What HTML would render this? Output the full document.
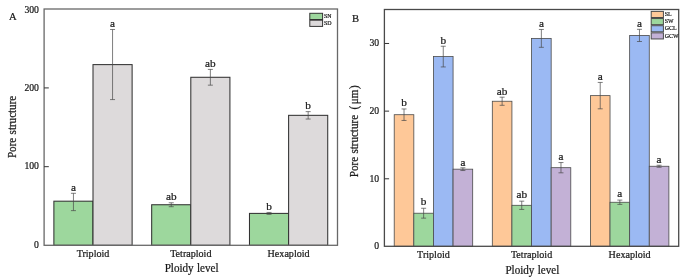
<!DOCTYPE html>
<html><head><meta charset="utf-8"><title>Pore structure</title>
<style>
html,body{margin:0;padding:0;background:#fff;}
body{width:685px;height:280px;overflow:hidden;font-family:"Liberation Serif",serif;}
svg{display:block;}
svg text{font-family:"Liberation Serif",serif;fill:#1a1a1a;stroke:#1a1a1a;stroke-width:0.22px;}
</style></head><body>
<svg width="685" height="280" viewBox="0 0 685 280">
<defs><filter id="soft" x="0" y="0" width="685" height="280" filterUnits="userSpaceOnUse"><feGaussianBlur stdDeviation="0.35"/></filter></defs>
<g filter="url(#soft)">
<rect width="685" height="280" fill="#ffffff"/>
<rect x="53.88" y="201.19" width="39.12" height="44.11" fill="#9DD79D" stroke="#333333" stroke-width="1.05"/>
<path d="M73.44 193.31V210.64M70.94 193.31h5M70.94 210.64h5" stroke="#484848" stroke-width="0.7" fill="none"/>
<text transform="translate(73.44 191.01) scale(1 1.0)" font-size="11.2" text-anchor="middle">a</text>
<rect x="93.00" y="64.61" width="39.12" height="180.69" fill="#DDDADB" stroke="#333333" stroke-width="1.05"/>
<path d="M112.56 29.48V99.58M110.06 29.48h5M110.06 99.58h5" stroke="#484848" stroke-width="0.7" fill="none"/>
<text transform="translate(112.56 26.78) scale(1 1.0)" font-size="11.2" text-anchor="middle">a</text>
<rect x="151.68" y="204.74" width="39.12" height="40.56" fill="#9DD79D" stroke="#333333" stroke-width="1.05"/>
<path d="M171.24 202.77V206.70M168.74 202.77h5M168.74 206.70h5" stroke="#484848" stroke-width="0.7" fill="none"/>
<text transform="translate(171.24 200.07) scale(1 1.0)" font-size="11.2" text-anchor="middle">ab</text>
<rect x="190.80" y="77.29" width="39.12" height="168.01" fill="#DDDADB" stroke="#333333" stroke-width="1.05"/>
<path d="M210.36 69.41V85.17M207.86 69.41h5M207.86 85.17h5" stroke="#484848" stroke-width="0.7" fill="none"/>
<text transform="translate(210.36 66.71) scale(1 1.0)" font-size="11.2" text-anchor="middle">ab</text>
<rect x="249.48" y="213.40" width="39.12" height="31.90" fill="#9DD79D" stroke="#333333" stroke-width="1.05"/>
<path d="M269.04 212.45V214.34M266.54 212.45h5M266.54 214.34h5" stroke="#484848" stroke-width="0.7" fill="none"/>
<text transform="translate(269.04 209.75) scale(1 1.0)" font-size="11.2" text-anchor="middle">b</text>
<rect x="288.60" y="115.34" width="39.12" height="129.97" fill="#DDDADB" stroke="#333333" stroke-width="1.05"/>
<path d="M308.16 111.63V119.04M305.66 111.63h5M305.66 119.04h5" stroke="#484848" stroke-width="0.7" fill="none"/>
<text transform="translate(308.16 108.93) scale(1 1.0)" font-size="11.2" text-anchor="middle">b</text>
<rect x="44.1" y="9.0" width="293.4" height="236.3" fill="none" stroke="#686868" stroke-width="1.3"/>
<text transform="translate(38.90 247.80) scale(1 1.04)" font-size="9.7" text-anchor="end">0</text>
<path d="M44.1 166.68h4.7" stroke="#333333" stroke-width="1.0"/>
<text transform="translate(38.90 169.43) scale(1 1.04)" font-size="9.7" text-anchor="end">100</text>
<path d="M44.1 87.92h4.7" stroke="#333333" stroke-width="1.0"/>
<text transform="translate(38.90 91.07) scale(1 1.04)" font-size="9.7" text-anchor="end">200</text>
<text transform="translate(38.90 12.80) scale(1 1.04)" font-size="9.7" text-anchor="end">300</text>
<text transform="translate(93.00 256.60) scale(1 1.04)" font-size="10.1" text-anchor="middle">Triploid</text>
<text transform="translate(190.80 256.60) scale(1 1.04)" font-size="10.1" text-anchor="middle">Tetraploid</text>
<text transform="translate(288.60 256.60) scale(1 1.04)" font-size="10.1" text-anchor="middle">Hexaploid</text>
<text transform="translate(191.55 271.70) scale(1 1.05)" font-size="11.1" text-anchor="middle" word-spacing="0.5">Ploidy level</text>
<text transform="translate(15.80 126.90) rotate(-90) scale(1 1.04)" font-size="11.05" text-anchor="middle" word-spacing="0.6">Pore structure</text>
<text transform="translate(9.00 20.00) scale(1 1.04)" font-size="10.6" text-anchor="start" stroke-width="0.4">A</text>
<rect x="309.8" y="13.30" width="12.8" height="6.2" fill="#9DD79D" stroke="#333333" stroke-width="1.0"/>
<text transform="translate(324.00 18.15) scale(1 1.04)" font-size="5.9" text-anchor="start">SN</text>
<rect x="309.8" y="20.20" width="12.8" height="6.2" fill="#DDDADB" stroke="#333333" stroke-width="1.0"/>
<text transform="translate(324.00 25.05) scale(1 1.04)" font-size="5.9" text-anchor="start">SD</text>
<rect x="394.21" y="114.71" width="19.62" height="131.59" fill="#FEC898" stroke="#4a4a4a" stroke-width="0.8"/>
<path d="M404.02 108.96V120.46M401.52 108.96h5M401.52 120.46h5" stroke="#484848" stroke-width="0.7" fill="none"/>
<text transform="translate(404.02 106.26) scale(1 1.0)" font-size="11.2" text-anchor="middle">b</text>
<rect x="413.83" y="213.22" width="19.62" height="33.08" fill="#9DD79D" stroke="#4a4a4a" stroke-width="0.8"/>
<path d="M423.64 208.28V218.15M421.14 208.28h5M421.14 218.15h5" stroke="#484848" stroke-width="0.7" fill="none"/>
<text transform="translate(423.64 205.08) scale(1 1.0)" font-size="11.2" text-anchor="middle">b</text>
<rect x="433.45" y="56.59" width="19.62" height="189.71" fill="#9BB9F3" stroke="#4a4a4a" stroke-width="0.8"/>
<path d="M443.26 46.24V66.94M440.76 46.24h5M440.76 66.94h5" stroke="#484848" stroke-width="0.7" fill="none"/>
<text transform="translate(443.26 43.54) scale(1 1.0)" font-size="11.2" text-anchor="middle">b</text>
<rect x="453.07" y="169.17" width="19.62" height="77.13" fill="#C3B1D6" stroke="#4a4a4a" stroke-width="0.8"/>
<path d="M462.88 167.82V170.52M460.38 167.82h5M460.38 170.52h5" stroke="#484848" stroke-width="0.7" fill="none"/>
<text transform="translate(462.88 165.72) scale(1 1.0)" font-size="11.2" text-anchor="middle">a</text>
<rect x="492.31" y="101.24" width="19.62" height="145.06" fill="#FEC898" stroke="#4a4a4a" stroke-width="0.8"/>
<path d="M502.12 97.18V105.30M499.62 97.18h5M499.62 105.30h5" stroke="#484848" stroke-width="0.7" fill="none"/>
<text transform="translate(502.12 94.88) scale(1 1.0)" font-size="11.2" text-anchor="middle">ab</text>
<rect x="511.93" y="205.30" width="19.62" height="41.00" fill="#9DD79D" stroke="#4a4a4a" stroke-width="0.8"/>
<path d="M521.74 201.17V209.43M519.24 201.17h5M519.24 209.43h5" stroke="#484848" stroke-width="0.7" fill="none"/>
<text transform="translate(521.74 198.47) scale(1 1.0)" font-size="11.2" text-anchor="middle">ab</text>
<rect x="531.55" y="38.39" width="19.62" height="207.91" fill="#9BB9F3" stroke="#4a4a4a" stroke-width="0.8"/>
<path d="M541.36 29.46V47.32M538.86 29.46h5M538.86 47.32h5" stroke="#484848" stroke-width="0.7" fill="none"/>
<text transform="translate(541.36 27.46) scale(1 1.0)" font-size="11.2" text-anchor="middle">a</text>
<rect x="551.17" y="167.68" width="19.62" height="78.62" fill="#C3B1D6" stroke="#4a4a4a" stroke-width="0.8"/>
<path d="M560.98 162.54V172.82M558.48 162.54h5M558.48 172.82h5" stroke="#484848" stroke-width="0.7" fill="none"/>
<text transform="translate(560.98 159.84) scale(1 1.0)" font-size="11.2" text-anchor="middle">a</text>
<rect x="590.41" y="95.63" width="19.62" height="150.67" fill="#FEC898" stroke="#4a4a4a" stroke-width="0.8"/>
<path d="M600.22 82.43V108.82M597.72 82.43h5M597.72 108.82h5" stroke="#484848" stroke-width="0.7" fill="none"/>
<text transform="translate(600.22 79.93) scale(1 1.0)" font-size="11.2" text-anchor="middle">a</text>
<rect x="610.03" y="202.26" width="19.62" height="44.04" fill="#9DD79D" stroke="#4a4a4a" stroke-width="0.8"/>
<path d="M619.84 200.09V204.42M617.34 200.09h5M617.34 204.42h5" stroke="#484848" stroke-width="0.7" fill="none"/>
<text transform="translate(619.84 197.39) scale(1 1.0)" font-size="11.2" text-anchor="middle">a</text>
<rect x="629.65" y="35.41" width="19.62" height="210.89" fill="#9BB9F3" stroke="#4a4a4a" stroke-width="0.8"/>
<path d="M639.46 29.32V41.50M636.96 29.32h5M636.96 41.50h5" stroke="#484848" stroke-width="0.7" fill="none"/>
<text transform="translate(639.46 27.22) scale(1 1.0)" font-size="11.2" text-anchor="middle">a</text>
<rect x="649.27" y="166.26" width="19.62" height="80.04" fill="#C3B1D6" stroke="#4a4a4a" stroke-width="0.8"/>
<path d="M659.08 165.25V167.28M656.58 165.25h5M656.58 167.28h5" stroke="#484848" stroke-width="0.7" fill="none"/>
<text transform="translate(659.08 162.55) scale(1 1.0)" font-size="11.2" text-anchor="middle">a</text>
<rect x="384.4" y="9.5" width="294.30000000000007" height="236.8" fill="none" stroke="#4a4a4a" stroke-width="1.3"/>
<text transform="translate(379.20 249.40) scale(1 1.04)" font-size="9.7" text-anchor="end">0</text>
<path d="M384.4 178.79h4.7" stroke="#333333" stroke-width="1.0"/>
<text transform="translate(379.20 181.74) scale(1 1.04)" font-size="9.7" text-anchor="end">10</text>
<path d="M384.4 111.14h4.7" stroke="#333333" stroke-width="1.0"/>
<text transform="translate(379.20 114.09) scale(1 1.04)" font-size="9.7" text-anchor="end">20</text>
<path d="M384.4 43.48h4.7" stroke="#333333" stroke-width="1.0"/>
<text transform="translate(379.20 46.43) scale(1 1.04)" font-size="9.7" text-anchor="end">30</text>
<text transform="translate(433.45 257.80) scale(1 1.04)" font-size="10.1" text-anchor="middle">Triploid</text>
<text transform="translate(531.55 257.80) scale(1 1.04)" font-size="10.1" text-anchor="middle">Tetraploid</text>
<text transform="translate(629.65 257.80) scale(1 1.04)" font-size="10.1" text-anchor="middle">Hexaploid</text>
<text transform="translate(532.30 274.20) scale(1 1.05)" font-size="11.1" text-anchor="middle" word-spacing="0.5">Ploidy level</text>
<text transform="translate(358.20 177.20) rotate(-90) scale(1 1.04)" font-size="11.05" text-anchor="start" word-spacing="0.6">Pore structure<tspan dx="5.4">(</tspan><tspan dx="1.6">&#956;m</tspan><tspan dx="0.7">)</tspan></text>
<text transform="translate(351.90 22.00) scale(1 1.04)" font-size="10.6" text-anchor="start" stroke-width="0.4">B</text>
<rect x="651.2" y="11.40" width="12.2" height="6.1" fill="#FEC898" stroke="#4a4a4a" stroke-width="1.0"/>
<text transform="translate(664.80 16.15) scale(1 1.04)" font-size="5.9" text-anchor="start">SL</text>
<rect x="651.2" y="18.55" width="12.2" height="6.1" fill="#9DD79D" stroke="#4a4a4a" stroke-width="1.0"/>
<text transform="translate(664.80 23.30) scale(1 1.04)" font-size="5.9" text-anchor="start">SW</text>
<rect x="651.2" y="25.70" width="12.2" height="6.1" fill="#9BB9F3" stroke="#4a4a4a" stroke-width="1.0"/>
<text transform="translate(664.80 30.45) scale(1 1.04)" font-size="5.9" text-anchor="start">GCL</text>
<rect x="651.2" y="32.85" width="12.2" height="6.1" fill="#C3B1D6" stroke="#4a4a4a" stroke-width="1.0"/>
<text transform="translate(664.80 37.60) scale(1 1.04)" font-size="5.9" text-anchor="start">GCW</text>
</g>
</svg>
</body></html>
